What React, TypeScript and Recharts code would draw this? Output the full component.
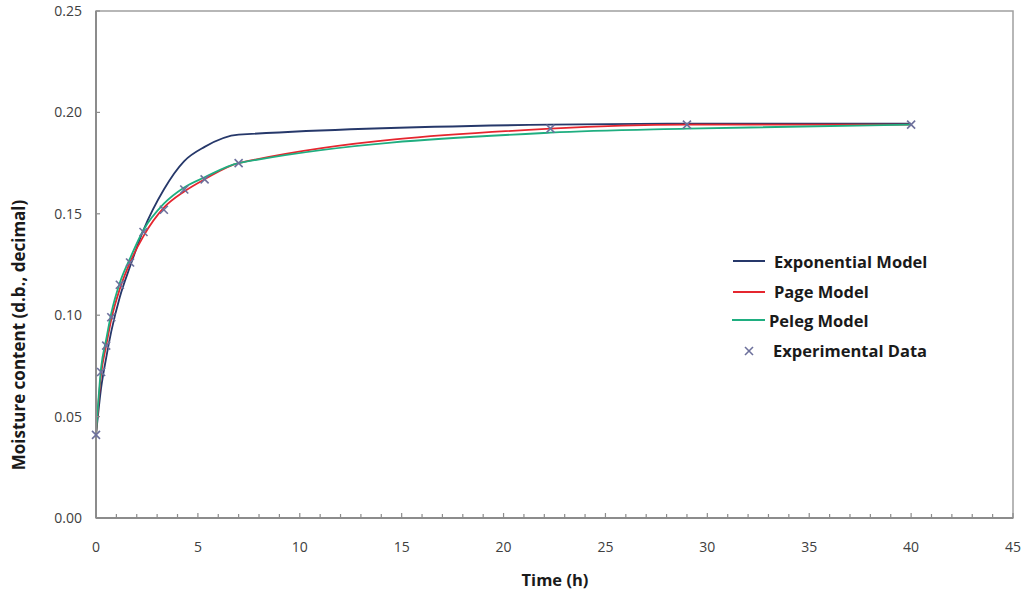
import { ComposedChart, Line, Scatter, XAxis, YAxis, ReferenceArea, Legend } from "recharts";

// drying time (h) at which samples were weighed
const times = [0, 0.25, 0.5, 0.75, 1.17, 1.67, 2.33, 3.33, 4.33, 5.33, 7, 22.3, 29, 40];

// moisture content, d.b. decimal
const experimental = [0.041, 0.072, 0.085, 0.099, 0.115, 0.126, 0.141, 0.152, 0.162, 0.167, 0.175, 0.192, 0.194, 0.194];
const exponential = [0.041, 0.064, 0.079, 0.092, 0.109, 0.124, 0.142, 0.162, 0.176, 0.183, 0.189, 0.194, 0.1945, 0.1945];
const pageModel = [0.041, 0.071, 0.085, 0.098, 0.113, 0.126, 0.139, 0.153, 0.161, 0.167, 0.175, 0.192, 0.194, 0.194];
const pelegModel = [0.041, 0.074, 0.088, 0.101, 0.116, 0.128, 0.142, 0.155, 0.163, 0.168, 0.175, 0.19, 0.192, 0.194];

const xTicks = Array.from({ length: 46 }, (_, i) => i);
const yTicks = [0, 0.05, 0.1, 0.15, 0.2, 0.25];

const legendNames = ["Exponential Model", "Page Model", "Peleg Model", "Experimental Data"];

const FONT = "'Open Sans', 'DejaVu Sans', sans-serif";
const BLUE = "#26386a";
const RED = "#e5262f";
const GREEN = "#1fae80";
const MARK = "#6d709c";
const AXIS = "#8c8c8c";

const data = times.map((t, i) => ({
  t,
  exp: exponential[i],
  page: pageModel[i],
  peleg: pelegModel[i],
  obs: experimental[i],
}));

function XTick({ x, y, payload }: any) {
  const v = payload.value as number;
  const major = v % 5 === 0;
  return (
    <g>
      <line x1={x} x2={x} y1={y} y2={y - (major ? 5 : 4)} stroke={AXIS} strokeWidth={1.2} />
      {major && (
        <text x={x} y={y + 34} textAnchor="middle" fontFamily={FONT} fontSize={14} fill="#404040">
          {v}
        </text>
      )}
    </g>
  );
}

function YTick({ x, y, payload }: any) {
  return (
    <g>
      <line x1={x} x2={x + 4} y1={y} y2={y} stroke={AXIS} strokeWidth={1.2} />
      <text x={x - 14} y={y + 5} textAnchor="end" fontFamily={FONT} fontSize={14} fill="#404040">
        {(payload.value as number).toFixed(2)}
      </text>
    </g>
  );
}

function Cross({ cx, cy }: any) {
  const r = 4;
  return (
    <g stroke={MARK} strokeWidth={1.6}>
      <line x1={cx - r} y1={cy - r} x2={cx + r} y2={cy + r} />
      <line x1={cx - r} y1={cy + r} x2={cx + r} y2={cy - r} />
    </g>
  );
}

function LegendBox() {
  const textStyle = {
    position: "absolute" as const,
    fontFamily: FONT,
    fontWeight: 700,
    fontSize: 16.5,
    color: "#1a1a1a",
    lineHeight: "20px",
    whiteSpace: "nowrap" as const,
  };
  const lineStyle = (color: string, left: number, top: number, w: number) => ({
    position: "absolute" as const,
    left,
    top,
    width: w,
    height: 2,
    background: color,
  });
  return (
    <div style={{ position: "relative", width: 280, height: 120 }}>
      <div style={lineStyle(BLUE, 3, 11, 32)} />
      <div style={{ ...textStyle, left: 44, top: 3 }}>{legendNames[0]}</div>
      <div style={lineStyle(RED, 3, 42, 32)} />
      <div style={{ ...textStyle, left: 44, top: 33 }}>{legendNames[1]}</div>
      <div style={lineStyle(GREEN, 2, 70, 33)} />
      <div style={{ ...textStyle, left: 39, top: 62 }}>{legendNames[2]}</div>
      <svg style={{ position: "absolute", left: 13, top: 96 }} width={12} height={12}>
        <Cross cx={6} cy={6} />
      </svg>
      <div style={{ ...textStyle, left: 43, top: 92 }}>{legendNames[3]}</div>
    </div>
  );
}

export default function App() {
  return (
    <div style={{ position: "absolute", left: 0, top: 0, width: 1024, height: 594, background: "#fff" }}>
      <ComposedChart
        width={1024}
        height={594}
        data={data}
        margin={{ top: 11, right: 11, bottom: 36, left: 36 }}
      >
        <ReferenceArea x1={0} x2={45} y1={0} y2={0.25} fill="none" stroke="#a0a0a0" strokeWidth={1.5} />
        <XAxis
          dataKey="t"
          type="number"
          domain={[0, 45]}
          ticks={xTicks}
          interval={0}
          height={40}
          tickSize={0}
          tickMargin={0}
          tick={<XTick />}
          axisLine={{ stroke: AXIS, strokeWidth: 2 }}
          tickLine={false}
          label={{
            content: () => (
              <text x={555} y={586} textAnchor="middle" fontFamily={FONT} fontWeight={700} fontSize={16.5} fill="#1a1a1a">
                Time (h)
              </text>
            ),
          }}
        />
        <YAxis
          type="number"
          domain={[0, 0.25]}
          ticks={yTicks}
          interval={0}
          width={60}
          tickSize={0}
          tickMargin={0}
          tick={<YTick />}
          axisLine={{ stroke: AXIS, strokeWidth: 2 }}
          tickLine={false}
          label={{
            content: () => (
              <text
                x={18}
                y={335}
                transform="rotate(-90 18 335)"
                textAnchor="middle"
                dominantBaseline="central"
                fontFamily={FONT}
                fontWeight={700}
                fontSize={17}
                fill="#1a1a1a"
              >
                Moisture content (d.b., decimal)
              </text>
            ),
          }}
        />
        <Line type="monotone" dataKey="exp" stroke={BLUE} strokeWidth={1.8} dot={false} isAnimationActive={false} />
        <Line type="monotone" dataKey="page" stroke={RED} strokeWidth={1.8} dot={false} isAnimationActive={false} />
        <Line type="monotone" dataKey="peleg" stroke={GREEN} strokeWidth={1.8} dot={false} isAnimationActive={false} />
        <Scatter dataKey="obs" shape={<Cross />} isAnimationActive={false} />
        <Legend
          layout="vertical"
          align="center"
          verticalAlign="middle"
          content={() => <LegendBox />}
          wrapperStyle={{ left: 730, top: 249, width: 280, height: 120 }}
        />
      </ComposedChart>
    </div>
  );
}
